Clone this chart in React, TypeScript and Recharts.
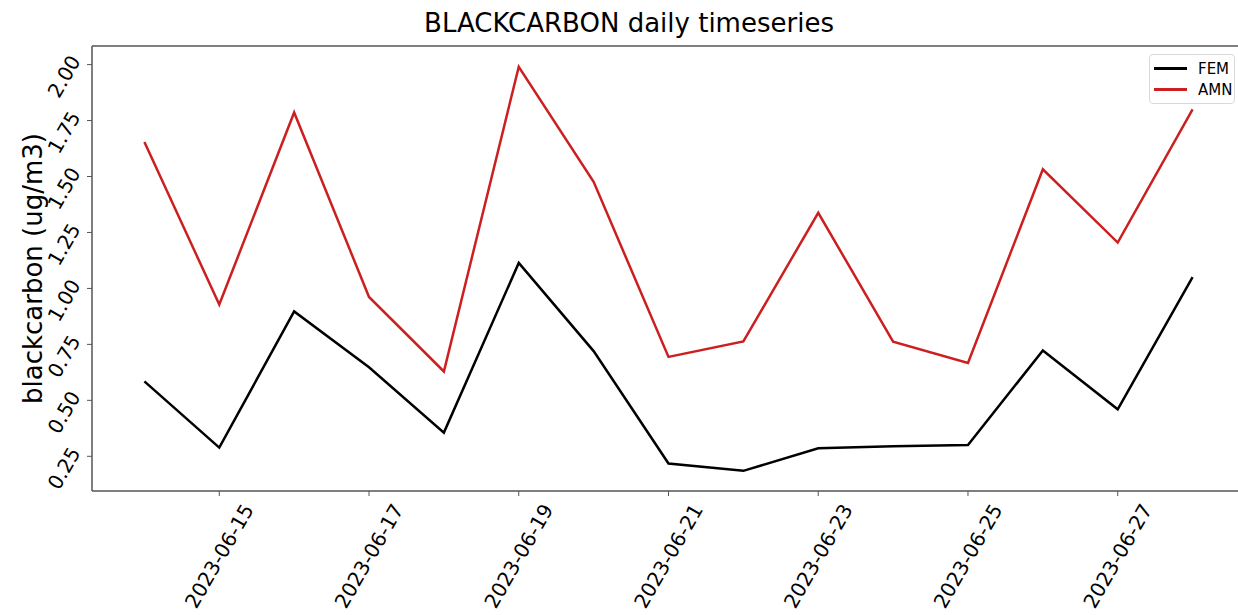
import { LineChart, Line, XAxis, YAxis, ReferenceLine } from 'recharts';

// daily dates, one point per day
const dates = [
  '2023-06-14', '2023-06-15', '2023-06-16', '2023-06-17', '2023-06-18',
  '2023-06-19', '2023-06-20', '2023-06-21', '2023-06-22', '2023-06-23',
  '2023-06-24', '2023-06-25', '2023-06-26', '2023-06-27', '2023-06-28',
];

const femValues = [0.585, 0.289, 0.897, 0.648, 0.356, 1.114, 0.72, 0.218, 0.185, 0.286, 0.295, 0.3, 0.723, 0.46, 1.05];
const amnValues = [1.654, 0.928, 1.786, 0.962, 0.629, 1.99, 1.476, 0.694, 0.763, 1.338, 0.762, 0.667, 1.532, 1.205, 1.8];

const xTickDates = ['2023-06-15', '2023-06-17', '2023-06-19', '2023-06-21', '2023-06-23', '2023-06-25', '2023-06-27'];
const yTicks = [0.25, 0.5, 0.75, 1.0, 1.25, 1.5, 1.75, 2.0];

const seriesNames = ['FEM', 'AMN'];
const seriesColors: Record<string, string> = { FEM: '#000000', AMN: '#cc1f1f' };

const data = dates.map((d, i) => ({ day: i, date: d, FEM: femValues[i], AMN: amnValues[i] }));
const xTicks = xTickDates.map((d) => dates.indexOf(d));

const Y_MIN = 0.095;
const Y_MAX = 2.083;
const FONT = '"DejaVu Sans", sans-serif';
const SPINE = '#555555';

const XTick = ({ x, y, payload }: any) => (
  <text
    transform={`translate(${x},${y + 58}) rotate(-60)`}
    textAnchor="middle"
    dominantBaseline="central"
    fontSize={20}
    fontFamily={FONT}
    fill="#000"
  >
    {dates[payload.value]}
  </text>
);

const YTick = ({ x, y, payload }: any) => (
  <text
    transform={`translate(${x - 21},${y + 12}) rotate(-60)`}
    textAnchor="middle"
    dominantBaseline="central"
    fontSize={20}
    fontFamily={FONT}
    fill="#000"
  >
    {payload.value.toFixed(2)}
  </text>
);

const YLabel = ({ viewBox }: any) => {
  const cy = viewBox.y + viewBox.height / 2;
  return (
    <text
      transform={`translate(33,${cy}) rotate(-90)`}
      textAnchor="middle"
      dominantBaseline="central"
      fontSize={26}
      fontFamily={FONT}
      fill="#000"
    >
      blackcarbon (ug/m3)
    </text>
  );
};

export default function App() {
  return (
    <div style={{ position: 'absolute', left: 0, top: 0, width: 1238, height: 615, overflow: 'hidden', background: '#fff' }}>
      <div
        style={{
          position: 'absolute',
          left: 0,
          width: 1258,
          top: 8,
          textAlign: 'center',
          fontFamily: FONT,
          fontSize: 26,
          color: '#000',
        }}
      >
        BLACKCARBON daily timeseries
      </div>
      <LineChart width={1260} height={615} data={data} margin={{ top: 46, right: 15, bottom: 0, left: 0 }}>
        <XAxis
          dataKey="day"
          type="number"
          domain={[-0.7, 14.7]}
          ticks={xTicks}
          tick={<XTick />}
          height={124}
          tickSize={5}
          tickLine={{ stroke: SPINE }}
          axisLine={{ stroke: SPINE, strokeWidth: 1.5 }}
          allowDataOverflow
        />
        <YAxis
          type="number"
          domain={[Y_MIN, Y_MAX]}
          ticks={yTicks}
          tick={<YTick />}
          width={92}
          tickSize={5}
          tickLine={{ stroke: SPINE }}
          axisLine={{ stroke: SPINE, strokeWidth: 1.5 }}
          allowDataOverflow
          label={{ content: <YLabel /> }}
        />
        <ReferenceLine y={Y_MAX} stroke={SPINE} strokeWidth={1.5} />
        {seriesNames.map((name) => (
          <Line
            key={name}
            type="linear"
            dataKey={name}
            stroke={seriesColors[name]}
            strokeWidth={2.5}
            dot={false}
            isAnimationActive={false}
          />
        ))}
      </LineChart>
      <div
        style={{
          position: 'absolute',
          left: 1149,
          top: 54,
          width: 86,
          border: '1px solid #d8d8d8',
          borderRadius: 4,
          background: 'rgba(255,255,255,0.8)',
          padding: '3px 0 3px 4px',
          fontFamily: FONT,
          fontSize: 15,
          boxSizing: 'border-box',
        }}
      >
        {seriesNames.map((name) => (
          <div key={name} style={{ display: 'flex', alignItems: 'center', height: 21 }}>
            <span style={{ display: 'inline-block', width: 33, height: 2.5, background: seriesColors[name], marginRight: 11 }} />
            <span>{name}</span>
          </div>
        ))}
      </div>
    </div>
  );
}
